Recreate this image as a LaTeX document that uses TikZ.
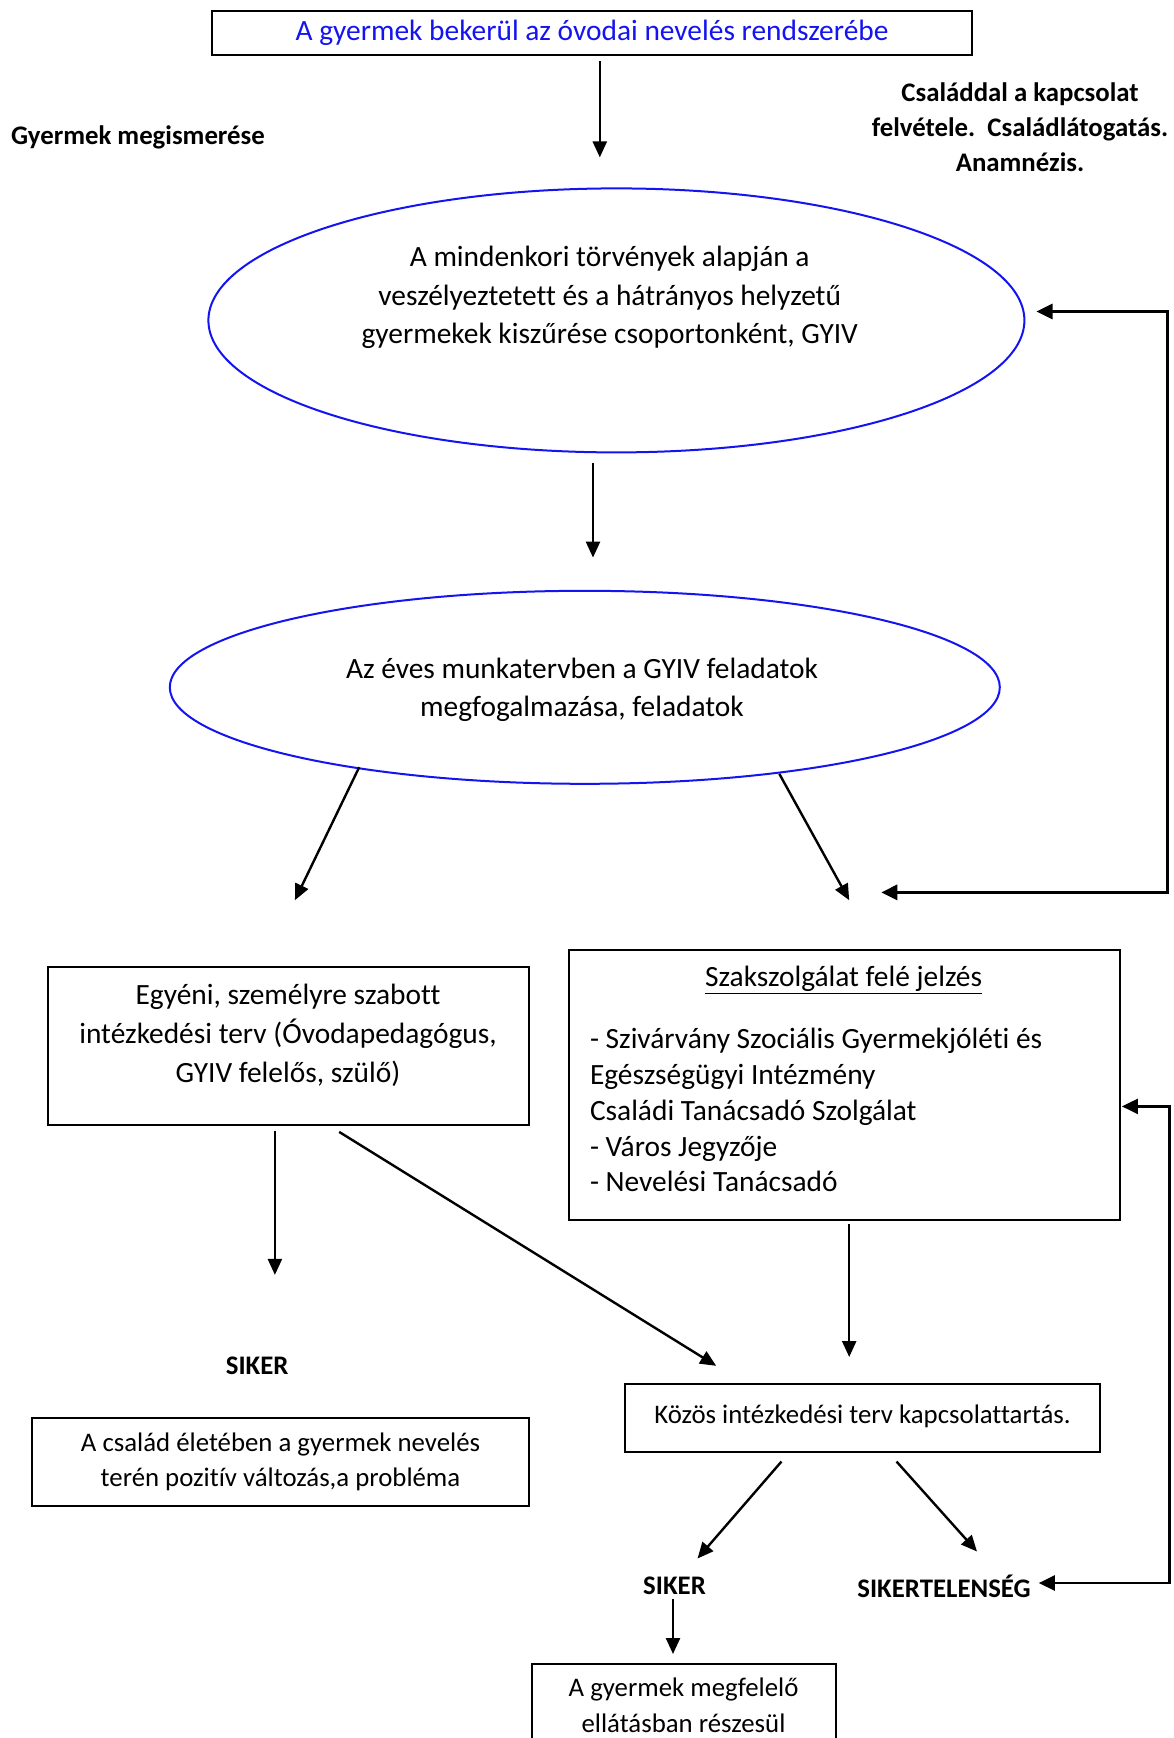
\documentclass[tikz,border=0pt]{standalone}
\usepackage{fontspec}
\setmainfont[Ligatures={NoCommon}]{Carlito}
\usetikzlibrary{arrows.meta,shapes.geometric}
\definecolor{wordblue}{RGB}{20,20,240}
\tikzset{
  big/.style={font=\fontsize{29.4}{35.6}\selectfont},
  small/.style={font=\fontsize{26.8}{34.4}\selectfont},
  boldtxt/.style={font=\fontsize{26.8}{35}\selectfont\bfseries},
  boxnode/.style={draw=black, line width=2, rectangle, inner sep=0},
  ovalnode/.style={draw=wordblue, line width=2, ellipse, inner sep=0},
  arr/.style={line width=2.4, -{Triangle[length=16,width=14]}},
  fb/.style={line width=3.2, {Triangle[length=16,width=15]}-{Triangle[length=16,width=15]}},
}
\begin{document}
\begin{tikzpicture}[x=1pt,y=-1pt]
\useasboundingbox (0,0) rectangle (1174,1738);
\clip (0,0) rectangle (1174,1738);
\fill[white] (0,0) rectangle (1174,1738);

% top box
\node[boxnode, big, text=wordblue, minimum width=760, minimum height=44] (top) at (592,33) {A gyermek bekerül az óvodai nevelés rendszerébe};

% side texts
\node[boldtxt, anchor=west, inner sep=0] (gm) at (11,137.5) {Gyermek megismerése};
\node[boldtxt, align=center, inner sep=0] (csal) at (1020,127.5) {Családdal a kapcsolat\\felvétele.\ \ Családlátogatás.\\Anamnézis.};

% ellipse 1
\node[ovalnode, minimum width=816, minimum height=264] (e1) at (616.4,320.4) {};
\node[big, align=center, inner sep=0, font=\fontsize{29.4}{38.3}\selectfont] (e1t) at (609.7,297.5) {A mindenkori törvények alapján a\\veszélyeztetett és a hátrányos helyzetű\\gyermekek kiszűrése csoportonként, GYIV};

% ellipse 2
\node[ovalnode, minimum width=830, minimum height=193] (e2) at (584.8,687.3) {};
\node[big, align=center, inner sep=0, font=\fontsize{29.4}{37.7}\selectfont] (e2t) at (582,689.5) {Az éves munkatervben a GYIV feladatok\\megfogalmazása, feladatok};

% left box
\node[boxnode, minimum width=481, minimum height=158.5] (egy) at (288.2,1046) {};
\node[big, align=center, inner sep=0, font=\fontsize{29.4}{38.8}\selectfont] (egyt) at (288,1035.5) {Egyéni, személyre szabott\\intézkedési terv (Óvodapedagógus,\\GYIV felelős, szülő)};

% right box
\node[boxnode, minimum width=551, minimum height=269.4] (sz) at (844.2,1084.8) {};
\node[big, inner sep=0] (szt) at (843.6,980) {\underline{Szakszolgálat felé jelzés}};
\node[big, align=left, anchor=west, inner sep=0, font=\fontsize{29.4}{35.75}\selectfont] (szl) at (589.8,1110.3) {- Szivárvány Szociális Gyermekjóléti és\\Egészségügyi Intézmény\\Családi Tanácsadó Szolgálat\\- Város Jegyzője\\- Nevelési Tanácsadó};

% lower left
\node[boldtxt, inner sep=0] (siker1) at (257.2,1365.8) {SIKER};
\node[boxnode, small, align=center, minimum width=496.7, minimum height=87.6] (csb) at (280.5,1462) {A család életében a gyermek nevelés\\terén pozitív változás,a probléma};

% kozos
\node[boxnode, minimum width=474.4, minimum height=68.8] (koz) at (862.5,1417.9) {};
\node[small, inner sep=0] (kozt) at (862.5,1416) {Közös intézkedési terv kapcsolattartás.};

% bottom
\node[boldtxt, inner sep=0] (siker2) at (674.5,1586) {SIKER};
\node[boldtxt, inner sep=0] (sikt) at (944,1586) {SIKERTELENSÉG};
\node[boxnode, minimum width=304, minimum height=110] (ell) at (683.5,1719) {};
\node[small, align=center, inner sep=0, font=\fontsize{26.8}{35.6}\selectfont] (ellt) at (683.5,1705) {A gyermek megfelelő\\ellátásban részesül};

% arrows
\coordinate (a1s) at (599.8,61);   \coordinate (a1e) at (599.8,157.4);
\coordinate (a2s) at (593,463.4);  \coordinate (a2e) at (593,557.6);
\coordinate (a3s) at (359.2,767.2); \coordinate (a3e) at (294.9,900.2);
\coordinate (a4s) at (779.3,773.8); \coordinate (a4e) at (849.2,900.2);
\coordinate (a5s) at (274.9,1130.8); \coordinate (a5e) at (274.9,1274.9);
\coordinate (a6s) at (339.2,1131.9); \coordinate (a6e) at (716.2,1365.8);
\coordinate (a7s) at (849.2,1223.9); \coordinate (a7e) at (849.2,1357);
\coordinate (a8s) at (781.5,1461.5); \coordinate (a8e) at (697.5,1558.5);
\coordinate (a9s) at (896.5,1461.5); \coordinate (a9e) at (977,1551.5);
\coordinate (a10s) at (673,1599); \coordinate (a10e) at (673,1654);
\draw[arr] (a1s) -- (a1e);
\draw[arr] (a2s) -- (a2e);
\draw[arr] (a3s) -- (a3e);
\draw[arr] (a4s) -- (a4e);
\draw[arr] (a5s) -- (a5e);
\draw[arr] (a6s) -- (a6e);
\draw[arr] (a7s) -- (a7e);
\draw[arr] (a8s) -- (a8e);
\draw[arr] (a9s) -- (a9e);
\draw[arr] (a10s) -- (a10e);

% feedback loops
\coordinate (f1t) at (1036.5,311.5); \coordinate (f1c1) at (1167.5,311.5);
\coordinate (f1c2) at (1167.5,892.4); \coordinate (f1b) at (881.3,892.4);
\draw[fb] (f1t) -- (f1c1) -- (f1c2) -- (f1b);
\coordinate (f2t) at (1121.9,1106.4); \coordinate (f2c1) at (1169.6,1106.4);
\coordinate (f2c2) at (1169.6,1583); \coordinate (f2b) at (1038.8,1583);
\draw[fb, line width=2.4] (f2t) -- (f2c1) -- (f2c2) -- (f2b);
\end{tikzpicture}
\end{document}
